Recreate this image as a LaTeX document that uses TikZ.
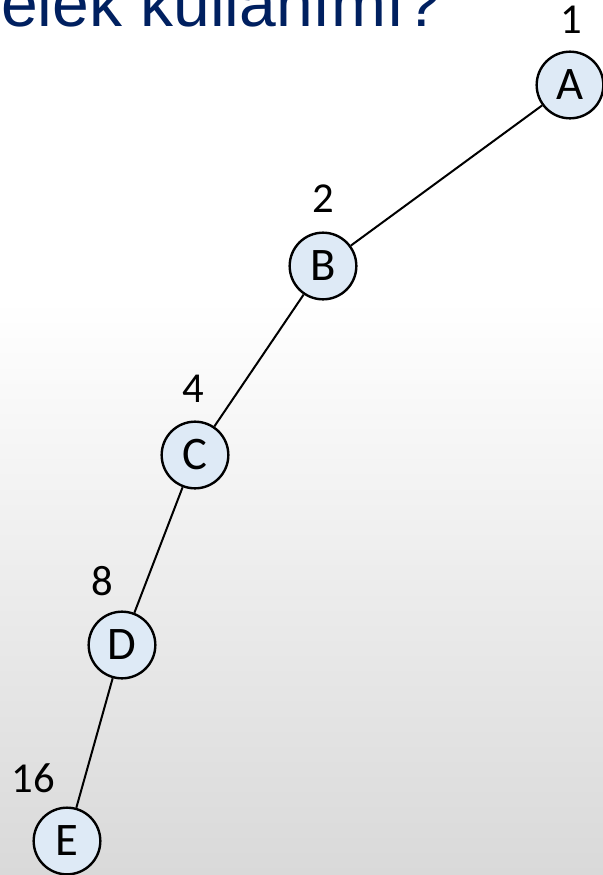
\documentclass[tikz,border=0pt]{standalone}
\usepackage{fontspec}
\setmainfont{Carlito}
\newfontfamily\titlefont{Liberation Sans}
\usepackage{xcolor}
\usetikzlibrary{positioning}

\definecolor{titleblue}{HTML}{002060}
\definecolor{nodefill}{HTML}{DEEAF6}
\definecolor{bgbottom}{HTML}{D9D9D9}

\begin{document}
\begin{tikzpicture}[
    x=0.75pt, y=-0.75pt,
    vertex/.style={circle, draw, line width=1.8pt, fill=nodefill, minimum size=50pt, inner sep=0pt, font=\fontsize{35}{40}\selectfont},
    numlbl/.style={inner sep=0pt, font=\fontsize{32}{36}\selectfont},
    edge/.style={line width=1.5pt}
]

% ============================================================
% BACKGROUND & TITLE
% ============================================================
\useasboundingbox (0,0) rectangle (603,875);
\clip (0,0) rectangle (603,875);
\fill[white] (0,0) rectangle (603,300);
\shade[top color=white, bottom color=bgbottom] (0,300) rectangle (603,875);

\node[anchor=base west, inner sep=0pt, text=titleblue, font=\titlefont\fontsize{49.5}{54}\selectfont] (title) at (1,26) {elek kullanımı?};

% ============================================================
% NODES
% ============================================================
\node[vertex] (A) at (570,85)  {A};
\node[vertex] (B) at (323,266) {B};
\node[vertex] (C) at (195,455) {C};
\node[vertex] (D) at (122,645) {D};
\node[vertex] (E) at (67,841)  {E};

% order labels
\node[numlbl] (nA) at (571,20)  {1};
\node[numlbl] (nB) at (323,199) {2};
\node[numlbl] (nC) at (193,389) {4};
\node[numlbl] (nD) at (102,581) {8};
\node[numlbl] (nE) at (33,778)  {16};

% ============================================================
% EDGES
% ============================================================
\draw[edge] (A) -- (B);
\draw[edge] (B) -- (C);
\draw[edge] (C) -- (D);
\draw[edge] (D) -- (E);

\end{tikzpicture}
\end{document}
